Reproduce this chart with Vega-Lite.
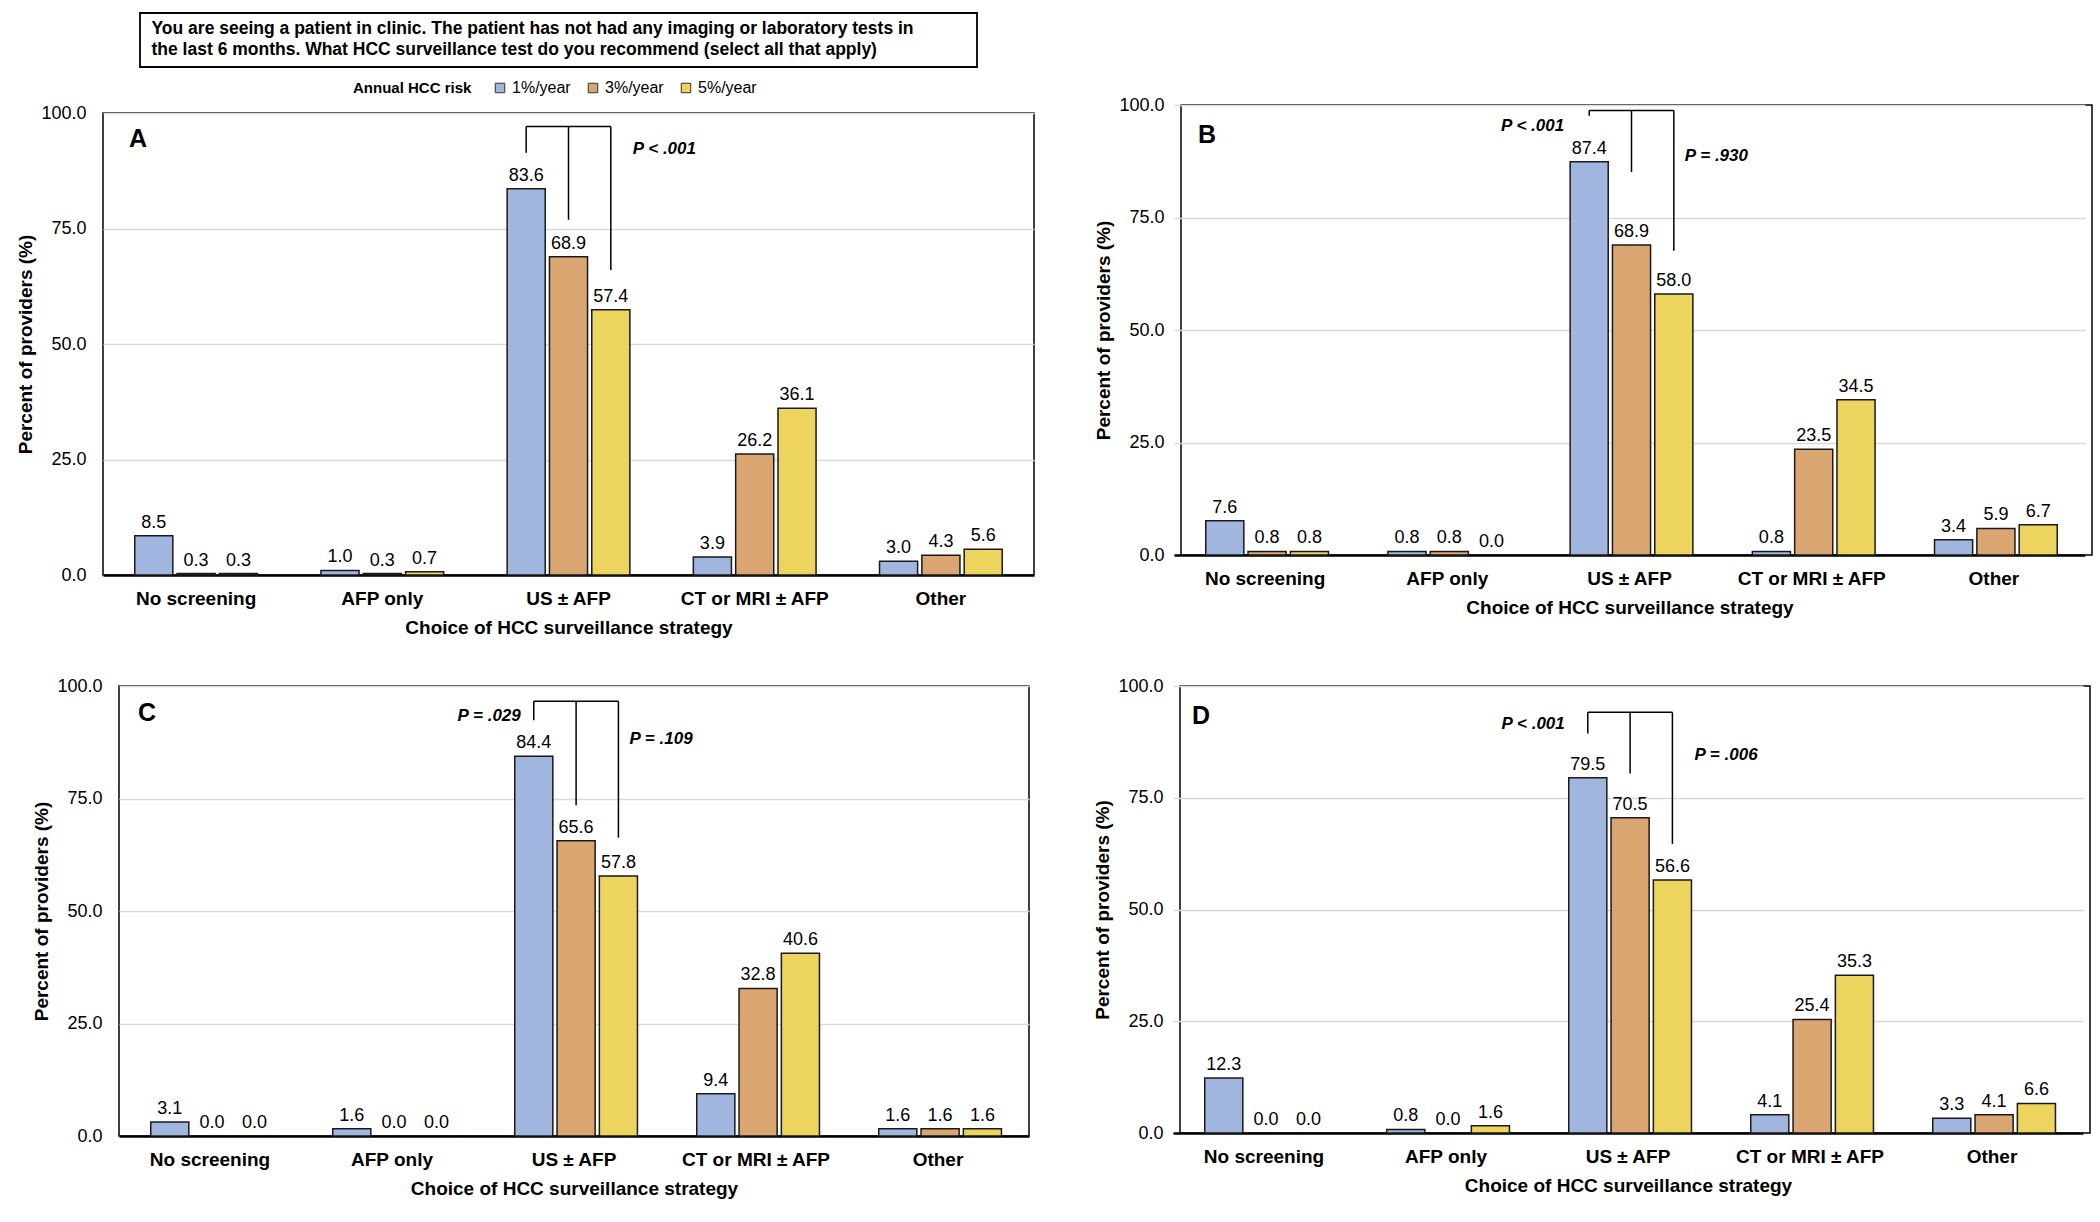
{
"$schema": "https://vega.github.io/schema/vega-lite/v6.json",
"autosize": {"type": "pad"},
"padding": {"left": 0, "top": 12, "right": 5, "bottom": 5},
"datasets": {
"bars": [
{"p":"A","s":"No screening","r":"1%/year","v":8.5},{"p":"A","s":"No screening","r":"3%/year","v":0.3},{"p":"A","s":"No screening","r":"5%/year","v":0.3},
{"p":"A","s":"AFP only","r":"1%/year","v":1.0},{"p":"A","s":"AFP only","r":"3%/year","v":0.3},{"p":"A","s":"AFP only","r":"5%/year","v":0.7},
{"p":"A","s":"US ± AFP","r":"1%/year","v":83.6},{"p":"A","s":"US ± AFP","r":"3%/year","v":68.9},{"p":"A","s":"US ± AFP","r":"5%/year","v":57.4},
{"p":"A","s":"CT or MRI ± AFP","r":"1%/year","v":3.9},{"p":"A","s":"CT or MRI ± AFP","r":"3%/year","v":26.2},{"p":"A","s":"CT or MRI ± AFP","r":"5%/year","v":36.1},
{"p":"A","s":"Other","r":"1%/year","v":3.0},{"p":"A","s":"Other","r":"3%/year","v":4.3},{"p":"A","s":"Other","r":"5%/year","v":5.6},
{"p":"B","s":"No screening","r":"1%/year","v":7.6},{"p":"B","s":"No screening","r":"3%/year","v":0.8},{"p":"B","s":"No screening","r":"5%/year","v":0.8},
{"p":"B","s":"AFP only","r":"1%/year","v":0.8},{"p":"B","s":"AFP only","r":"3%/year","v":0.8},{"p":"B","s":"AFP only","r":"5%/year","v":0.0},
{"p":"B","s":"US ± AFP","r":"1%/year","v":87.4},{"p":"B","s":"US ± AFP","r":"3%/year","v":68.9},{"p":"B","s":"US ± AFP","r":"5%/year","v":58.0},
{"p":"B","s":"CT or MRI ± AFP","r":"1%/year","v":0.8},{"p":"B","s":"CT or MRI ± AFP","r":"3%/year","v":23.5},{"p":"B","s":"CT or MRI ± AFP","r":"5%/year","v":34.5},
{"p":"B","s":"Other","r":"1%/year","v":3.4},{"p":"B","s":"Other","r":"3%/year","v":5.9},{"p":"B","s":"Other","r":"5%/year","v":6.7},
{"p":"C","s":"No screening","r":"1%/year","v":3.1},{"p":"C","s":"No screening","r":"3%/year","v":0.0},{"p":"C","s":"No screening","r":"5%/year","v":0.0},
{"p":"C","s":"AFP only","r":"1%/year","v":1.6},{"p":"C","s":"AFP only","r":"3%/year","v":0.0},{"p":"C","s":"AFP only","r":"5%/year","v":0.0},
{"p":"C","s":"US ± AFP","r":"1%/year","v":84.4},{"p":"C","s":"US ± AFP","r":"3%/year","v":65.6},{"p":"C","s":"US ± AFP","r":"5%/year","v":57.8},
{"p":"C","s":"CT or MRI ± AFP","r":"1%/year","v":9.4},{"p":"C","s":"CT or MRI ± AFP","r":"3%/year","v":32.8},{"p":"C","s":"CT or MRI ± AFP","r":"5%/year","v":40.6},
{"p":"C","s":"Other","r":"1%/year","v":1.6},{"p":"C","s":"Other","r":"3%/year","v":1.6},{"p":"C","s":"Other","r":"5%/year","v":1.6},
{"p":"D","s":"No screening","r":"1%/year","v":12.3},{"p":"D","s":"No screening","r":"3%/year","v":0.0},{"p":"D","s":"No screening","r":"5%/year","v":0.0},
{"p":"D","s":"AFP only","r":"1%/year","v":0.8},{"p":"D","s":"AFP only","r":"3%/year","v":0.0},{"p":"D","s":"AFP only","r":"5%/year","v":1.6},
{"p":"D","s":"US ± AFP","r":"1%/year","v":79.5},{"p":"D","s":"US ± AFP","r":"3%/year","v":70.5},{"p":"D","s":"US ± AFP","r":"5%/year","v":56.6},
{"p":"D","s":"CT or MRI ± AFP","r":"1%/year","v":4.1},{"p":"D","s":"CT or MRI ± AFP","r":"3%/year","v":25.4},{"p":"D","s":"CT or MRI ± AFP","r":"5%/year","v":35.3},
{"p":"D","s":"Other","r":"1%/year","v":3.3},{"p":"D","s":"Other","r":"3%/year","v":4.1},{"p":"D","s":"Other","r":"5%/year","v":6.6}
],
"brk": [
{"p":"A","s":"US ± AFP","r":"1%/year","top":97.1,"bot":91.4},{"p":"A","s":"US ± AFP","r":"3%/year","top":97.1,"bot":76.9},{"p":"A","s":"US ± AFP","r":"5%/year","top":97.1,"bot":66.0},
{"p":"B","s":"US ± AFP","r":"1%/year","top":98.8,"bot":97.6},{"p":"B","s":"US ± AFP","r":"3%/year","top":98.8,"bot":85.1},{"p":"B","s":"US ± AFP","r":"5%/year","top":98.8,"bot":67.6},
{"p":"C","s":"US ± AFP","r":"1%/year","top":96.6,"bot":92.4},{"p":"C","s":"US ± AFP","r":"3%/year","top":96.6,"bot":73.5},{"p":"C","s":"US ± AFP","r":"5%/year","top":96.6,"bot":66.3},
{"p":"D","s":"US ± AFP","r":"1%/year","top":94.1,"bot":89.4},{"p":"D","s":"US ± AFP","r":"3%/year","top":94.1,"bot":80.4},{"p":"D","s":"US ± AFP","r":"5%/year","top":94.1,"bot":64.7}
],
"pv": [
{"p":"A","s":"US ± AFP","r":"5%/year","y":92.3,"t":"P < .001","side":"R"},
{"p":"B","s":"US ± AFP","r":"1%/year","y":95.4,"t":"P < .001","side":"L"},
{"p":"B","s":"US ± AFP","r":"5%/year","y":88.6,"t":"P = .930","side":"R"},
{"p":"C","s":"US ± AFP","r":"1%/year","y":93.4,"t":"P = .029","side":"L"},
{"p":"C","s":"US ± AFP","r":"5%/year","y":88.2,"t":"P = .109","side":"R"},
{"p":"D","s":"US ± AFP","r":"1%/year","y":91.4,"t":"P < .001","side":"L"},
{"p":"D","s":"US ± AFP","r":"5%/year","y":84.6,"t":"P = .006","side":"R"}
]
},
"vconcat": [
{"vconcat": [
 {"hconcat": [
  {"width": 139, "height": 54, "data": {"values": [{}]}, "mark": {"type": "text"}, "encoding": {"text": {"value": ""}}, "view": {"stroke": null}},
  {"width": 837, "height": 54, "view": {"stroke": null},
   "data": {"values": [{"t": "You are seeing a patient in clinic. The patient has not had any imaging or laboratory tests in\nthe last 6 months. What HCC surveillance test do you recommend (select all that apply)"}]},
   "layer": [
    {"mark": {"type": "rect", "fill": "#ffffff", "stroke": "#000", "strokeWidth": 1.8}, "encoding": {}},
    {"mark": {"type": "text", "align": "left", "baseline": "middle", "dx": -407, "dy": -11, "fontSize": 17.5, "fontWeight": "bold", "lineBreak": "\n", "lineHeight": 21, "color": "#000"},
     "encoding": {"text": {"field": "t", "type": "nominal"}}}
   ]}
 ], "spacing": 0},
 {"hconcat": [
  {"width": 16, "height": 10, "data": {"values": [{}]}, "mark": {"type": "text"}, "encoding": {"text": {"value": ""}}, "view": {"stroke": null}},
  {"hconcat": [
  {"vconcat": [
  {"width": 10, "height": 1, "data": {"values": [{}]}, "mark": {"type": "text"}, "encoding": {"text": {"value": ""}}, "view": {"stroke": null}},
  {"width": 931, "height": 462, "layer": [
   {"data": {"name": "bars"}, "transform": [{"filter": "datum.p === 'A' && datum.v > 0"}],
    "mark": {"type": "bar", "stroke": "#1a1a1a", "strokeWidth": 1.5},
    "encoding": {
     "x": {"field":"s","type":"nominal","scale":{"domain":["No screening","AFP only","US ± AFP","CT or MRI ± AFP","Other"],"paddingInner":0,"paddingOuter":0},"title":"Choice of HCC surveillance strategy"},
     "xOffset": {"field":"r","type":"nominal","scale":{"domain":["1%/year","3%/year","5%/year"],"paddingInner":0.1,"paddingOuter":0.75}},
     "y": {"field":"v","type":"quantitative","scale":{"domain":[0,100],"nice":false},"title":"Percent of providers (%)","axis":{"values":[0,25,50,75,100],"format":".1f"}},
     "color": {"field":"r","type":"nominal","scale":{"domain":["1%/year","3%/year","5%/year"],"range":["#A0B6DF","#D9A672","#EDD45F"]},
      "legend": {"title": "Annual HCC risk", "orient": "none", "legendX": 353, "legendY": 67, "direction": "horizontal", "columns": 3, "titleOrient": "left", "titleFontSize": 15, "titleFontWeight": "bold", "titleColor": "#000", "titlePadding": 20, "labelFontSize": 16, "labelColor": "#000", "labelOffset": 4, "columnPadding": 14, "symbolType": "square", "symbolSize": 90, "symbolStrokeColor": "#333", "symbolStrokeWidth": 1}}
    }},
   {"data": {"name": "bars"}, "transform": [{"filter": "datum.p === 'A'"}],
    "mark": {"type": "text", "baseline": "alphabetic", "dy": -8, "fontSize": 18, "color": "#000"},
    "encoding": {
     "x": {"field":"s","type":"nominal","scale":{"domain":["No screening","AFP only","US ± AFP","CT or MRI ± AFP","Other"],"paddingInner":0,"paddingOuter":0},"title":"Choice of HCC surveillance strategy"},
     "xOffset": {"field":"r","type":"nominal","scale":{"domain":["1%/year","3%/year","5%/year"],"paddingInner":0.1,"paddingOuter":0.75}},
     "y": {"field":"v","type":"quantitative","scale":{"domain":[0,100],"nice":false},"title":"Percent of providers (%)"},
     "text": {"field":"v","type":"quantitative","format":".1f"}
    }},
   {"data": {"name": "brk"}, "transform": [{"filter": "datum.p === 'A'"}],
    "mark": {"type": "rule", "color": "#000", "strokeWidth": 1.5},
    "encoding": {
     "x": {"field":"s","type":"nominal","scale":{"domain":["No screening","AFP only","US ± AFP","CT or MRI ± AFP","Other"],"paddingInner":0,"paddingOuter":0},"title":"Choice of HCC surveillance strategy"},
     "xOffset": {"field":"r","type":"nominal","scale":{"domain":["1%/year","3%/year","5%/year"],"paddingInner":0.1,"paddingOuter":0.75}},
     "y": {"field":"bot","type":"quantitative","scale":{"domain":[0,100],"nice":false},"title":"Percent of providers (%)"},
     "y2": {"field":"top"}
    }},
   {"data": {"name": "brk"}, "transform": [{"filter": "datum.p === 'A'"}],
    "mark": {"type": "line", "color": "#000", "strokeWidth": 1.5},
    "encoding": {
     "x": {"field":"s","type":"nominal","scale":{"domain":["No screening","AFP only","US ± AFP","CT or MRI ± AFP","Other"],"paddingInner":0,"paddingOuter":0},"title":"Choice of HCC surveillance strategy"},
     "xOffset": {"field":"r","type":"nominal","scale":{"domain":["1%/year","3%/year","5%/year"],"paddingInner":0.1,"paddingOuter":0.75}},
     "y": {"field":"top","type":"quantitative","scale":{"domain":[0,100],"nice":false},"title":"Percent of providers (%)"},
     "order": {"field":"r"}
    }},
   {"data": {"name": "pv"}, "transform": [{"filter": "datum.p === 'A' && datum.side === 'R'"}],
    "mark": {"type": "text", "align": "left", "baseline": "middle", "dx": 22, "fontSize": 17, "fontWeight": "bold", "fontStyle": "italic", "color": "#000"},
    "encoding": {
     "x": {"field":"s","type":"nominal","scale":{"domain":["No screening","AFP only","US ± AFP","CT or MRI ± AFP","Other"],"paddingInner":0,"paddingOuter":0},"title":"Choice of HCC surveillance strategy"},
     "xOffset": {"field":"r","type":"nominal","scale":{"domain":["1%/year","3%/year","5%/year"],"paddingInner":0.1,"paddingOuter":0.75}},
     "y": {"field":"y","type":"quantitative","scale":{"domain":[0,100],"nice":false},"title":"Percent of providers (%)"},
     "text": {"field":"t","type":"nominal"}
    }},
   {"data": {"values": [{"t": "A"}]},
    "mark": {"type": "text", "align": "left", "baseline": "middle", "dx": 26, "fontSize": 25, "fontWeight": "bold", "color": "#000"},
    "encoding": {
     "x": {"datum":"No screening","type":"nominal","bandPosition":0,"scale":{"domain":["No screening","AFP only","US ± AFP","CT or MRI ± AFP","Other"],"paddingInner":0,"paddingOuter":0},"title":"Choice of HCC surveillance strategy"},
     "y": {"datum":94.4,"type":"quantitative","scale":{"domain":[0,100],"nice":false},"title":"Percent of providers (%)"},
     "text": {"field":"t","type":"nominal"}
    }}
  ]}
  ], "spacing": -8},
  {"width": 911, "height": 450, "layer": [
   {"data": {"name": "bars"}, "transform": [{"filter": "datum.p === 'B' && datum.v > 0"}],
    "mark": {"type": "bar", "stroke": "#1a1a1a", "strokeWidth": 1.5},
    "encoding": {
     "x": {"field":"s","type":"nominal","scale":{"domain":["No screening","AFP only","US ± AFP","CT or MRI ± AFP","Other"],"paddingInner":0,"paddingOuter":0,"range":[-7,904]},"title":"Choice of HCC surveillance strategy"},
     "xOffset": {"field":"r","type":"nominal","scale":{"domain":["1%/year","3%/year","5%/year"],"paddingInner":0.1,"paddingOuter":0.75}},
     "y": {"field":"v","type":"quantitative","scale":{"domain":[0,100],"nice":false},"title":"Percent of providers (%)","axis":{"values":[0,25,50,75,100],"format":".1f"}},
     "color": {"field":"r","type":"nominal","scale":{"domain":["1%/year","3%/year","5%/year"],"range":["#A0B6DF","#D9A672","#EDD45F"]},
      "legend": {"title": "Annual HCC risk", "orient": "none", "legendX": 353, "legendY": 67, "direction": "horizontal", "columns": 3, "titleOrient": "left", "titleFontSize": 15, "titleFontWeight": "bold", "titleColor": "#000", "titlePadding": 20, "labelFontSize": 16, "labelColor": "#000", "labelOffset": 4, "columnPadding": 14, "symbolType": "square", "symbolSize": 90, "symbolStrokeColor": "#333", "symbolStrokeWidth": 1}}
    }},
   {"data": {"name": "bars"}, "transform": [{"filter": "datum.p === 'B'"}],
    "mark": {"type": "text", "baseline": "alphabetic", "dy": -8, "fontSize": 18, "color": "#000"},
    "encoding": {
     "x": {"field":"s","type":"nominal","scale":{"domain":["No screening","AFP only","US ± AFP","CT or MRI ± AFP","Other"],"paddingInner":0,"paddingOuter":0,"range":[-7,904]},"title":"Choice of HCC surveillance strategy"},
     "xOffset": {"field":"r","type":"nominal","scale":{"domain":["1%/year","3%/year","5%/year"],"paddingInner":0.1,"paddingOuter":0.75}},
     "y": {"field":"v","type":"quantitative","scale":{"domain":[0,100],"nice":false},"title":"Percent of providers (%)"},
     "text": {"field":"v","type":"quantitative","format":".1f"}
    }},
   {"data": {"name": "brk"}, "transform": [{"filter": "datum.p === 'B'"}],
    "mark": {"type": "rule", "color": "#000", "strokeWidth": 1.5},
    "encoding": {
     "x": {"field":"s","type":"nominal","scale":{"domain":["No screening","AFP only","US ± AFP","CT or MRI ± AFP","Other"],"paddingInner":0,"paddingOuter":0,"range":[-7,904]},"title":"Choice of HCC surveillance strategy"},
     "xOffset": {"field":"r","type":"nominal","scale":{"domain":["1%/year","3%/year","5%/year"],"paddingInner":0.1,"paddingOuter":0.75}},
     "y": {"field":"bot","type":"quantitative","scale":{"domain":[0,100],"nice":false},"title":"Percent of providers (%)"},
     "y2": {"field":"top"}
    }},
   {"data": {"name": "brk"}, "transform": [{"filter": "datum.p === 'B'"}],
    "mark": {"type": "line", "color": "#000", "strokeWidth": 1.5},
    "encoding": {
     "x": {"field":"s","type":"nominal","scale":{"domain":["No screening","AFP only","US ± AFP","CT or MRI ± AFP","Other"],"paddingInner":0,"paddingOuter":0,"range":[-7,904]},"title":"Choice of HCC surveillance strategy"},
     "xOffset": {"field":"r","type":"nominal","scale":{"domain":["1%/year","3%/year","5%/year"],"paddingInner":0.1,"paddingOuter":0.75}},
     "y": {"field":"top","type":"quantitative","scale":{"domain":[0,100],"nice":false},"title":"Percent of providers (%)"},
     "order": {"field":"r"}
    }},
   {"data": {"name": "pv"}, "transform": [{"filter": "datum.p === 'B' && datum.side === 'R'"}],
    "mark": {"type": "text", "align": "left", "baseline": "middle", "dx": 11, "fontSize": 17, "fontWeight": "bold", "fontStyle": "italic", "color": "#000"},
    "encoding": {
     "x": {"field":"s","type":"nominal","scale":{"domain":["No screening","AFP only","US ± AFP","CT or MRI ± AFP","Other"],"paddingInner":0,"paddingOuter":0,"range":[-7,904]},"title":"Choice of HCC surveillance strategy"},
     "xOffset": {"field":"r","type":"nominal","scale":{"domain":["1%/year","3%/year","5%/year"],"paddingInner":0.1,"paddingOuter":0.75}},
     "y": {"field":"y","type":"quantitative","scale":{"domain":[0,100],"nice":false},"title":"Percent of providers (%)"},
     "text": {"field":"t","type":"nominal"}
    }},
   {"data": {"name": "pv"}, "transform": [{"filter": "datum.p === 'B' && datum.side === 'L'"}],
    "mark": {"type": "text", "align": "right", "baseline": "middle", "dx": -25, "fontSize": 17, "fontWeight": "bold", "fontStyle": "italic", "color": "#000"},
    "encoding": {
     "x": {"field":"s","type":"nominal","scale":{"domain":["No screening","AFP only","US ± AFP","CT or MRI ± AFP","Other"],"paddingInner":0,"paddingOuter":0,"range":[-7,904]},"title":"Choice of HCC surveillance strategy"},
     "xOffset": {"field":"r","type":"nominal","scale":{"domain":["1%/year","3%/year","5%/year"],"paddingInner":0.1,"paddingOuter":0.75}},
     "y": {"field":"y","type":"quantitative","scale":{"domain":[0,100],"nice":false},"title":"Percent of providers (%)"},
     "text": {"field":"t","type":"nominal"}
    }},
   {"data": {"values": [{"t": "B"}]},
    "mark": {"type": "text", "align": "left", "baseline": "middle", "dx": 24, "fontSize": 25, "fontWeight": "bold", "color": "#000"},
    "encoding": {
     "x": {"datum":"No screening","type":"nominal","bandPosition":0,"scale":{"domain":["No screening","AFP only","US ± AFP","CT or MRI ± AFP","Other"],"paddingInner":0,"paddingOuter":0,"range":[-7,904]},"title":"Choice of HCC surveillance strategy"},
     "y": {"datum":93.3,"type":"quantitative","scale":{"domain":[0,100],"nice":false},"title":"Percent of providers (%)"},
     "text": {"field":"t","type":"nominal"}
    }}
  ]}
  ], "spacing": 59}
 ], "spacing": 0}
], "spacing": 27},
{"hconcat": [
 {"width": 32, "height": 10, "data": {"values": [{}]}, "mark": {"type": "text"}, "encoding": {"text": {"value": ""}}, "view": {"stroke": null}},
 {"hconcat": [
  {"width": 910, "height": 450, "layer": [
   {"data": {"name": "bars"}, "transform": [{"filter": "datum.p === 'C' && datum.v > 0"}],
    "mark": {"type": "bar", "stroke": "#1a1a1a", "strokeWidth": 1.5},
    "encoding": {
     "x": {"field":"s","type":"nominal","scale":{"domain":["No screening","AFP only","US ± AFP","CT or MRI ± AFP","Other"],"paddingInner":0,"paddingOuter":0},"title":"Choice of HCC surveillance strategy"},
     "xOffset": {"field":"r","type":"nominal","scale":{"domain":["1%/year","3%/year","5%/year"],"paddingInner":0.1,"paddingOuter":0.75}},
     "y": {"field":"v","type":"quantitative","scale":{"domain":[0,100],"nice":false},"title":"Percent of providers (%)","axis":{"values":[0,25,50,75,100],"format":".1f"}},
     "color": {"field":"r","type":"nominal","scale":{"domain":["1%/year","3%/year","5%/year"],"range":["#A0B6DF","#D9A672","#EDD45F"]},
      "legend": {"title": "Annual HCC risk", "orient": "none", "legendX": 353, "legendY": 67, "direction": "horizontal", "columns": 3, "titleOrient": "left", "titleFontSize": 15, "titleFontWeight": "bold", "titleColor": "#000", "titlePadding": 20, "labelFontSize": 16, "labelColor": "#000", "labelOffset": 4, "columnPadding": 14, "symbolType": "square", "symbolSize": 90, "symbolStrokeColor": "#333", "symbolStrokeWidth": 1}}
    }},
   {"data": {"name": "bars"}, "transform": [{"filter": "datum.p === 'C'"}],
    "mark": {"type": "text", "baseline": "alphabetic", "dy": -8, "fontSize": 18, "color": "#000"},
    "encoding": {
     "x": {"field":"s","type":"nominal","scale":{"domain":["No screening","AFP only","US ± AFP","CT or MRI ± AFP","Other"],"paddingInner":0,"paddingOuter":0},"title":"Choice of HCC surveillance strategy"},
     "xOffset": {"field":"r","type":"nominal","scale":{"domain":["1%/year","3%/year","5%/year"],"paddingInner":0.1,"paddingOuter":0.75}},
     "y": {"field":"v","type":"quantitative","scale":{"domain":[0,100],"nice":false},"title":"Percent of providers (%)"},
     "text": {"field":"v","type":"quantitative","format":".1f"}
    }},
   {"data": {"name": "brk"}, "transform": [{"filter": "datum.p === 'C'"}],
    "mark": {"type": "rule", "color": "#000", "strokeWidth": 1.5},
    "encoding": {
     "x": {"field":"s","type":"nominal","scale":{"domain":["No screening","AFP only","US ± AFP","CT or MRI ± AFP","Other"],"paddingInner":0,"paddingOuter":0},"title":"Choice of HCC surveillance strategy"},
     "xOffset": {"field":"r","type":"nominal","scale":{"domain":["1%/year","3%/year","5%/year"],"paddingInner":0.1,"paddingOuter":0.75}},
     "y": {"field":"bot","type":"quantitative","scale":{"domain":[0,100],"nice":false},"title":"Percent of providers (%)"},
     "y2": {"field":"top"}
    }},
   {"data": {"name": "brk"}, "transform": [{"filter": "datum.p === 'C'"}],
    "mark": {"type": "line", "color": "#000", "strokeWidth": 1.5},
    "encoding": {
     "x": {"field":"s","type":"nominal","scale":{"domain":["No screening","AFP only","US ± AFP","CT or MRI ± AFP","Other"],"paddingInner":0,"paddingOuter":0},"title":"Choice of HCC surveillance strategy"},
     "xOffset": {"field":"r","type":"nominal","scale":{"domain":["1%/year","3%/year","5%/year"],"paddingInner":0.1,"paddingOuter":0.75}},
     "y": {"field":"top","type":"quantitative","scale":{"domain":[0,100],"nice":false},"title":"Percent of providers (%)"},
     "order": {"field":"r"}
    }},
   {"data": {"name": "pv"}, "transform": [{"filter": "datum.p === 'C' && datum.side === 'R'"}],
    "mark": {"type": "text", "align": "left", "baseline": "middle", "dx": 11, "fontSize": 17, "fontWeight": "bold", "fontStyle": "italic", "color": "#000"},
    "encoding": {
     "x": {"field":"s","type":"nominal","scale":{"domain":["No screening","AFP only","US ± AFP","CT or MRI ± AFP","Other"],"paddingInner":0,"paddingOuter":0},"title":"Choice of HCC surveillance strategy"},
     "xOffset": {"field":"r","type":"nominal","scale":{"domain":["1%/year","3%/year","5%/year"],"paddingInner":0.1,"paddingOuter":0.75}},
     "y": {"field":"y","type":"quantitative","scale":{"domain":[0,100],"nice":false},"title":"Percent of providers (%)"},
     "text": {"field":"t","type":"nominal"}
    }},
   {"data": {"name": "pv"}, "transform": [{"filter": "datum.p === 'C' && datum.side === 'L'"}],
    "mark": {"type": "text", "align": "right", "baseline": "middle", "dx": -13, "fontSize": 17, "fontWeight": "bold", "fontStyle": "italic", "color": "#000"},
    "encoding": {
     "x": {"field":"s","type":"nominal","scale":{"domain":["No screening","AFP only","US ± AFP","CT or MRI ± AFP","Other"],"paddingInner":0,"paddingOuter":0},"title":"Choice of HCC surveillance strategy"},
     "xOffset": {"field":"r","type":"nominal","scale":{"domain":["1%/year","3%/year","5%/year"],"paddingInner":0.1,"paddingOuter":0.75}},
     "y": {"field":"y","type":"quantitative","scale":{"domain":[0,100],"nice":false},"title":"Percent of providers (%)"},
     "text": {"field":"t","type":"nominal"}
    }},
   {"data": {"values": [{"t": "C"}]},
    "mark": {"type": "text", "align": "left", "baseline": "middle", "dx": 19, "fontSize": 25, "fontWeight": "bold", "color": "#000"},
    "encoding": {
     "x": {"datum":"No screening","type":"nominal","bandPosition":0,"scale":{"domain":["No screening","AFP only","US ± AFP","CT or MRI ± AFP","Other"],"paddingInner":0,"paddingOuter":0},"title":"Choice of HCC surveillance strategy"},
     "y": {"datum":94,"type":"quantitative","scale":{"domain":[0,100],"nice":false},"title":"Percent of providers (%)"},
     "text": {"field":"t","type":"nominal"}
    }}
  ]},
  {"width": 910, "height": 447, "layer": [
   {"data": {"name": "bars"}, "transform": [{"filter": "datum.p === 'D' && datum.v > 0"}],
    "mark": {"type": "bar", "stroke": "#1a1a1a", "strokeWidth": 1.5},
    "encoding": {
     "x": {"field":"s","type":"nominal","scale":{"domain":["No screening","AFP only","US ± AFP","CT or MRI ± AFP","Other"],"paddingInner":0,"paddingOuter":0,"range":[-7,903]},"title":"Choice of HCC surveillance strategy"},
     "xOffset": {"field":"r","type":"nominal","scale":{"domain":["1%/year","3%/year","5%/year"],"paddingInner":0.1,"paddingOuter":0.75}},
     "y": {"field":"v","type":"quantitative","scale":{"domain":[0,100],"nice":false},"title":"Percent of providers (%)","axis":{"values":[0,25,50,75,100],"format":".1f"}},
     "color": {"field":"r","type":"nominal","scale":{"domain":["1%/year","3%/year","5%/year"],"range":["#A0B6DF","#D9A672","#EDD45F"]},
      "legend": {"title": "Annual HCC risk", "orient": "none", "legendX": 353, "legendY": 67, "direction": "horizontal", "columns": 3, "titleOrient": "left", "titleFontSize": 15, "titleFontWeight": "bold", "titleColor": "#000", "titlePadding": 20, "labelFontSize": 16, "labelColor": "#000", "labelOffset": 4, "columnPadding": 14, "symbolType": "square", "symbolSize": 90, "symbolStrokeColor": "#333", "symbolStrokeWidth": 1}}
    }},
   {"data": {"name": "bars"}, "transform": [{"filter": "datum.p === 'D'"}],
    "mark": {"type": "text", "baseline": "alphabetic", "dy": -8, "fontSize": 18, "color": "#000"},
    "encoding": {
     "x": {"field":"s","type":"nominal","scale":{"domain":["No screening","AFP only","US ± AFP","CT or MRI ± AFP","Other"],"paddingInner":0,"paddingOuter":0,"range":[-7,903]},"title":"Choice of HCC surveillance strategy"},
     "xOffset": {"field":"r","type":"nominal","scale":{"domain":["1%/year","3%/year","5%/year"],"paddingInner":0.1,"paddingOuter":0.75}},
     "y": {"field":"v","type":"quantitative","scale":{"domain":[0,100],"nice":false},"title":"Percent of providers (%)"},
     "text": {"field":"v","type":"quantitative","format":".1f"}
    }},
   {"data": {"name": "brk"}, "transform": [{"filter": "datum.p === 'D'"}],
    "mark": {"type": "rule", "color": "#000", "strokeWidth": 1.5},
    "encoding": {
     "x": {"field":"s","type":"nominal","scale":{"domain":["No screening","AFP only","US ± AFP","CT or MRI ± AFP","Other"],"paddingInner":0,"paddingOuter":0,"range":[-7,903]},"title":"Choice of HCC surveillance strategy"},
     "xOffset": {"field":"r","type":"nominal","scale":{"domain":["1%/year","3%/year","5%/year"],"paddingInner":0.1,"paddingOuter":0.75}},
     "y": {"field":"bot","type":"quantitative","scale":{"domain":[0,100],"nice":false},"title":"Percent of providers (%)"},
     "y2": {"field":"top"}
    }},
   {"data": {"name": "brk"}, "transform": [{"filter": "datum.p === 'D'"}],
    "mark": {"type": "line", "color": "#000", "strokeWidth": 1.5},
    "encoding": {
     "x": {"field":"s","type":"nominal","scale":{"domain":["No screening","AFP only","US ± AFP","CT or MRI ± AFP","Other"],"paddingInner":0,"paddingOuter":0,"range":[-7,903]},"title":"Choice of HCC surveillance strategy"},
     "xOffset": {"field":"r","type":"nominal","scale":{"domain":["1%/year","3%/year","5%/year"],"paddingInner":0.1,"paddingOuter":0.75}},
     "y": {"field":"top","type":"quantitative","scale":{"domain":[0,100],"nice":false},"title":"Percent of providers (%)"},
     "order": {"field":"r"}
    }},
   {"data": {"name": "pv"}, "transform": [{"filter": "datum.p === 'D' && datum.side === 'R'"}],
    "mark": {"type": "text", "align": "left", "baseline": "middle", "dx": 22, "fontSize": 17, "fontWeight": "bold", "fontStyle": "italic", "color": "#000"},
    "encoding": {
     "x": {"field":"s","type":"nominal","scale":{"domain":["No screening","AFP only","US ± AFP","CT or MRI ± AFP","Other"],"paddingInner":0,"paddingOuter":0,"range":[-7,903]},"title":"Choice of HCC surveillance strategy"},
     "xOffset": {"field":"r","type":"nominal","scale":{"domain":["1%/year","3%/year","5%/year"],"paddingInner":0.1,"paddingOuter":0.75}},
     "y": {"field":"y","type":"quantitative","scale":{"domain":[0,100],"nice":false},"title":"Percent of providers (%)"},
     "text": {"field":"t","type":"nominal"}
    }},
   {"data": {"name": "pv"}, "transform": [{"filter": "datum.p === 'D' && datum.side === 'L'"}],
    "mark": {"type": "text", "align": "right", "baseline": "middle", "dx": -23, "fontSize": 17, "fontWeight": "bold", "fontStyle": "italic", "color": "#000"},
    "encoding": {
     "x": {"field":"s","type":"nominal","scale":{"domain":["No screening","AFP only","US ± AFP","CT or MRI ± AFP","Other"],"paddingInner":0,"paddingOuter":0,"range":[-7,903]},"title":"Choice of HCC surveillance strategy"},
     "xOffset": {"field":"r","type":"nominal","scale":{"domain":["1%/year","3%/year","5%/year"],"paddingInner":0.1,"paddingOuter":0.75}},
     "y": {"field":"y","type":"quantitative","scale":{"domain":[0,100],"nice":false},"title":"Percent of providers (%)"},
     "text": {"field":"t","type":"nominal"}
    }},
   {"data": {"values": [{"t": "D"}]},
    "mark": {"type": "text", "align": "left", "baseline": "middle", "dx": 19, "fontSize": 25, "fontWeight": "bold", "color": "#000"},
    "encoding": {
     "x": {"datum":"No screening","type":"nominal","bandPosition":0,"scale":{"domain":["No screening","AFP only","US ± AFP","CT or MRI ± AFP","Other"],"paddingInner":0,"paddingOuter":0,"range":[-7,903]},"title":"Choice of HCC surveillance strategy"},
     "y": {"datum":93.3,"type":"quantitative","scale":{"domain":[0,100],"nice":false},"title":"Percent of providers (%)"},
     "text": {"field":"t","type":"nominal"}
    }}
  ]}
 ], "spacing": 63}
], "spacing": 0}
],
"spacing": 38,
"config": {
 "font": "Liberation Sans",
 "background": "#ffffff",
 "view": {"stroke": "#000", "strokeWidth": 1.5},
 "axisX": {"labelAngle": 0, "labelFontSize": 19, "labelFontWeight": "bold", "labelColor": "#000", "labelPadding": 14, "ticks": false, "domainColor": "#000", "domainWidth": 2.5, "grid": false, "titleFontSize": 19, "titleFontWeight": "bold", "titleColor": "#000", "titlePadding": 10},
 "axisY": {"labelFontSize": 18, "labelColor": "#000", "labelPadding": 17, "ticks": false, "domain": false, "grid": true, "gridColor": "#d9d9d9", "gridWidth": 1.5, "titleFontSize": 19, "titleFontWeight": "bold", "titleColor": "#000", "titlePadding": 5}
}
}
